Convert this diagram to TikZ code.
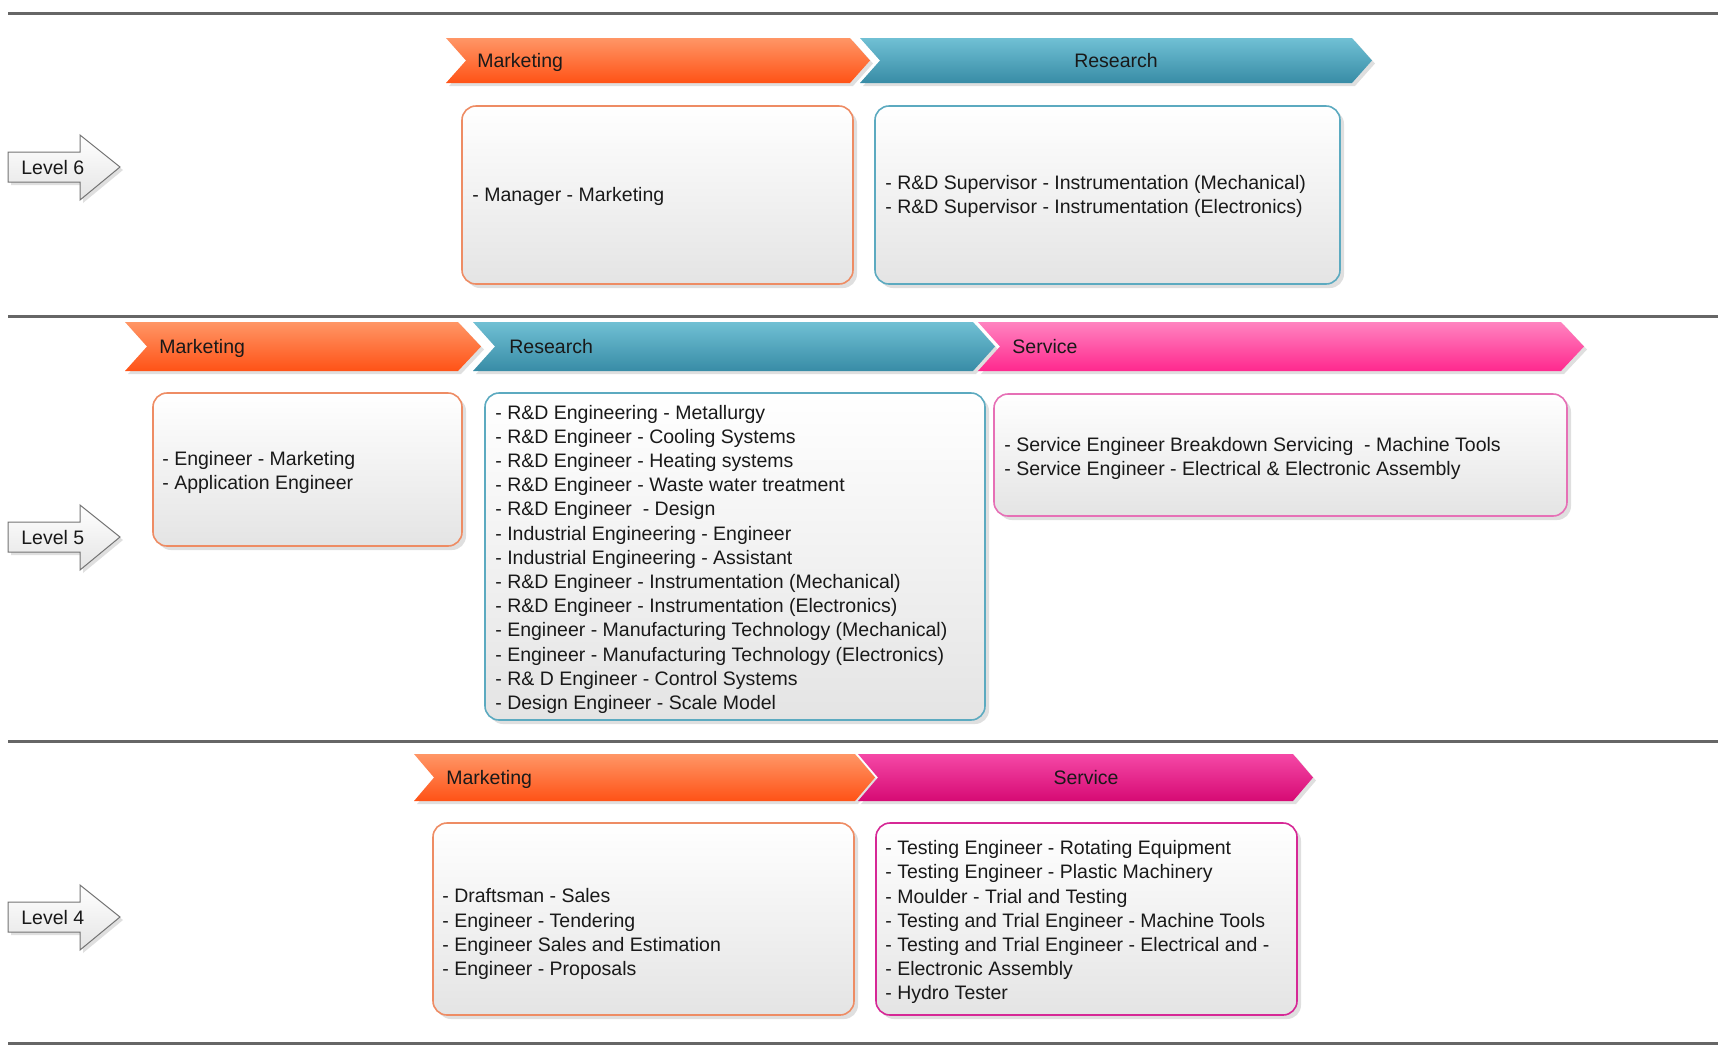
\documentclass[tikz,border=0pt]{standalone}
\usepackage{fontspec}
\setmainfont{Liberation Sans}
\usetikzlibrary{shadows}

\definecolor{mkttop}{RGB}{255,150,102}
\definecolor{mktbot}{RGB}{255,82,22}
\definecolor{mktline}{RGB}{238,140,100}
\definecolor{restop}{RGB}{112,192,212}
\definecolor{resbot}{RGB}{56,140,166}
\definecolor{resline}{RGB}{92,170,192}
\definecolor{srvtop}{RGB}{255,132,192}
\definecolor{srvbot}{RGB}{255,40,142}
\definecolor{srvline}{RGB}{230,112,182}
\definecolor{tsttop}{RGB}{245,72,166}
\definecolor{tstbot}{RGB}{214,10,116}
\definecolor{tstline}{RGB}{214,40,150}
\definecolor{boxbot}{RGB}{228,228,228}

\begin{document}
\begin{tikzpicture}[x=0.5pt, y=-0.5pt,
	rule/.style={line width=1.5pt, draw=black!60},
	chev/.style={drop shadow={shadow xshift=1.5pt, shadow yshift=-1.5pt, opacity=0.25}},
	box/.style={rounded corners=7pt, line width=0.8pt, top color=white, bottom color=boxbot,
		drop shadow={shadow xshift=2pt, shadow yshift=-2pt, opacity=0.25}},
	lvl/.style={draw=black!55, line width=0.5pt, top color=white, bottom color=boxbot,
		drop shadow={shadow xshift=1.5pt, shadow yshift=-1.5pt, opacity=0.25}},
	txt/.style={font=\fontsize{9.75}{12.1}\selectfont, align=left, inner sep=0pt, anchor=west, text=black!90},
	lab/.style={txt, text height=7pt, text depth=0pt},
	list/.style={txt, yshift=-1.6pt}]

	\useasboundingbox (0,0) rectangle (1718,1046);

	\draw[rule] (8,13) -- (1718,13);
	\draw[rule] (8,316) -- (1718,316);
	\draw[rule] (8,741) -- (1718,741);
	\draw[rule] (8,1043) -- (1718,1043);

	% level 6
	\path[lvl] (8,152) -- (80,152) -- (80,135) -- (120,167) -- (80,200) -- (80,182) -- (8,182) -- cycle;
	\node[lab] (lv6) at (21,167) {Level 6};

	\path[chev, top color=mkttop, bottom color=mktbot] (446,38) -- (850,38) -- (870,60.5) -- (850,83) -- (446,83) -- (466,60.5) -- cycle;
	\path[chev, top color=restop, bottom color=resbot] (860,38) -- (1352,38) -- (1372,60.5) -- (1352,83) -- (860,83) -- (880,60.5) -- cycle;
	\node[lab] (mkt6) at (477,60.5) {Marketing};
	\node[lab, anchor=center] (res6) at (1116,60.5) {Research};

	\path[box, draw=mktline] (462,106) rectangle (853,284);
	\path[box, draw=resline] (875,106) rectangle (1340,284);
	\node[list] (mgr6) at (472,193) {- Manager - Marketing};
	\node[list] (sup6) at (885,193) {- R\&D Supervisor - Instrumentation (Mechanical)\\- R\&D Supervisor - Instrumentation (Electronics)};

	% level 5
	\path[lvl] (8,522) -- (80,522) -- (80,505) -- (120,537) -- (80,570) -- (80,552) -- (8,552) -- cycle;
	\node[lab] (lv5) at (21,537) {Level 5};

	\path[chev, top color=mkttop, bottom color=mktbot] (125,322) -- (458,322) -- (481,346.5) -- (458,371) -- (125,371) -- (147,346.5) -- cycle;
	\path[chev, top color=restop, bottom color=resbot] (473,322) -- (973,322) -- (995,346.5) -- (973,371) -- (473,371) -- (495,346.5) -- cycle;
	\path[chev, top color=srvtop, bottom color=srvbot] (978,322) -- (1561,322) -- (1584,346.5) -- (1561,371) -- (978,371) -- (1000,346.5) -- cycle;
	\node[lab] (mkt5) at (159,346.5) {Marketing};
	\node[lab] (res5) at (509,346.5) {Research};
	\node[lab] (srv5) at (1012,346.5) {Service};

	\path[box, draw=mktline] (153,393) rectangle (462,546);
	\path[box, draw=resline] (485,393) rectangle (985,720);
	\path[box, draw=srvline] (994,394) rectangle (1567,516);
	\node[list] (eng5) at (162,469) {- Engineer - Marketing\\- Application Engineer};
	\node[list] (rnd5) at (495,556) {- R\&D Engineering - Metallurgy\\- R\&D Engineer - Cooling Systems\\- R\&D Engineer - Heating systems\\- R\&D Engineer - Waste water treatment\\- R\&D Engineer \ - Design\\- Industrial Engineering - Engineer\\- Industrial Engineering - Assistant\\- R\&D Engineer - Instrumentation (Mechanical)\\- R\&D Engineer - Instrumentation (Electronics)\\- Engineer - Manufacturing Technology (Mechanical)\\- Engineer - Manufacturing Technology (Electronics)\\- R\& D Engineer - Control Systems\\- Design Engineer - Scale Model};
	\node[list] (svc5) at (1004,455) {- Service Engineer Breakdown Servicing \ - Machine Tools\\- Service Engineer - Electrical \& Electronic Assembly};

	% level 4
	\path[lvl] (8,902) -- (80,902) -- (80,885) -- (120,917) -- (80,950) -- (80,932) -- (8,932) -- cycle;
	\node[lab] (lv4) at (21,917) {Level 4};

	\path[chev, top color=mkttop, bottom color=mktbot] (414,754) -- (855,754) -- (875,777.5) -- (855,801) -- (414,801) -- (434,777.5) -- cycle;
	\path[chev, top color=tsttop, bottom color=tstbot] (858,754) -- (1293,754) -- (1313,777.5) -- (1293,801) -- (858,801) -- (878,777.5) -- cycle;
	\node[lab] (mkt4) at (446,777.5) {Marketing};
	\node[lab, anchor=center] (srv4) at (1086,777.5) {Service};

	\path[box, draw=mktline] (433,823) rectangle (854,1015);
	\path[box, draw=tstline] (876,823) rectangle (1297,1015);
	\node[list] (drf4) at (442,931) {- Draftsman - Sales\\- Engineer - Tendering\\- Engineer Sales and Estimation\\- Engineer - Proposals};
	\node[list] (tst4) at (885,919) {- Testing Engineer - Rotating Equipment\\- Testing Engineer - Plastic Machinery\\- Moulder - Trial and Testing\\- Testing and Trial Engineer - Machine Tools\\- Testing and Trial Engineer - Electrical and -\\- Electronic Assembly\\- Hydro Tester};
\end{tikzpicture}
\end{document}
